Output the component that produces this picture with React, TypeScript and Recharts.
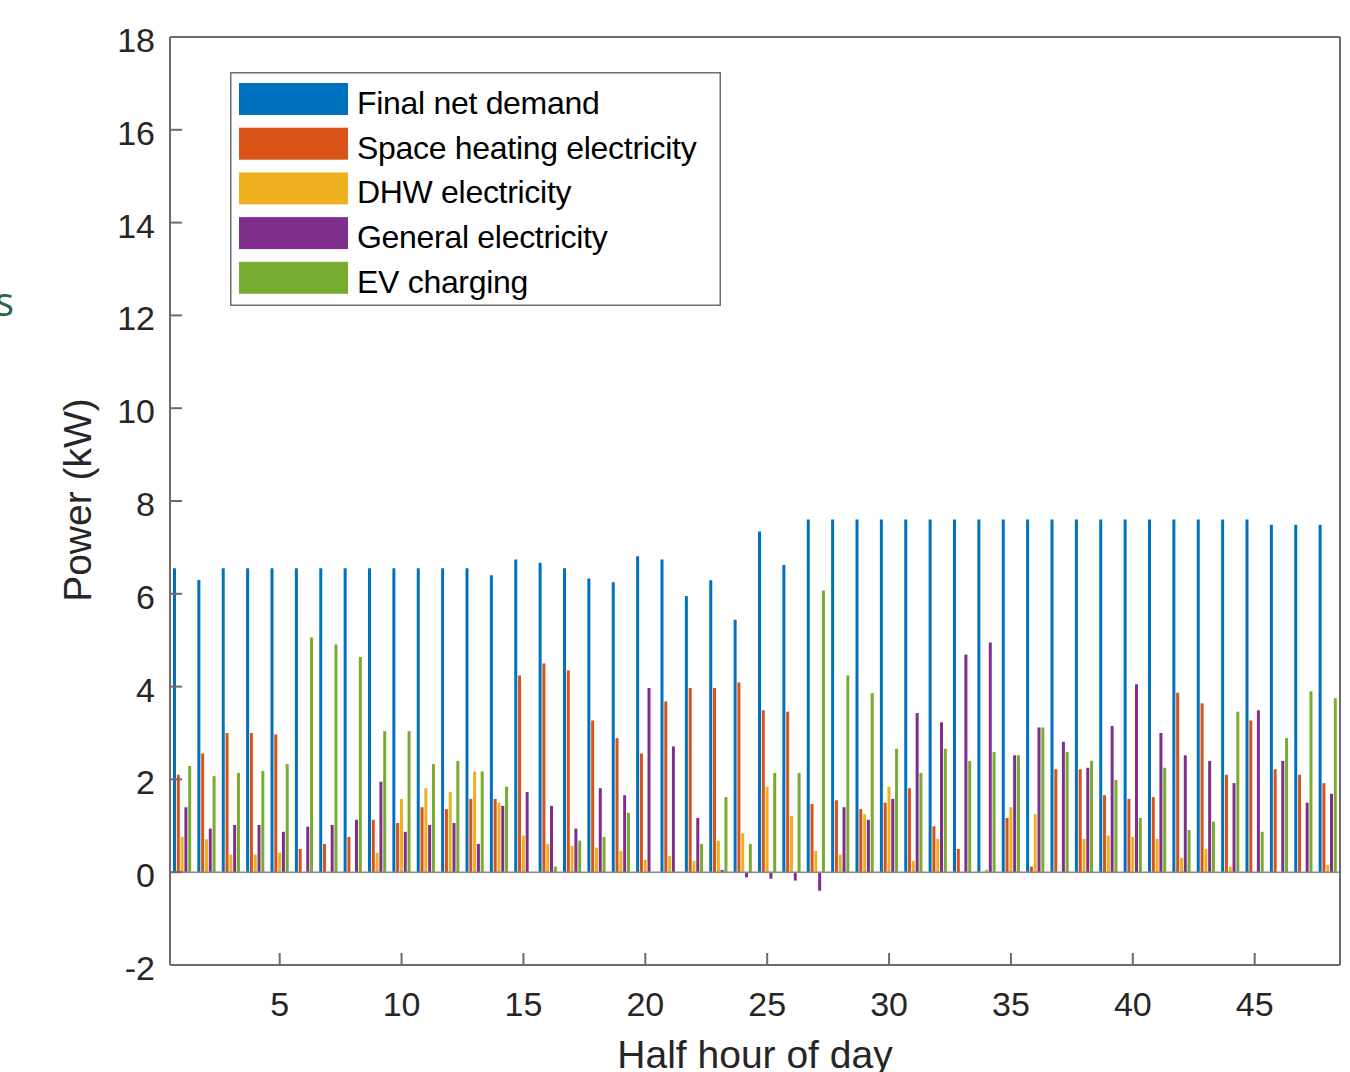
import React from 'react';
import { BarChart, Bar, XAxis, YAxis, ReferenceLine, Legend } from 'recharts';

const halfHours = [1, 2, 3, 4, 5, 6, 7, 8, 9, 10, 11, 12, 13, 14, 15, 16, 17, 18, 19, 20, 21, 22, 23, 24,
  25, 26, 27, 28, 29, 30, 31, 32, 33, 34, 35, 36, 37, 38, 39, 40, 41, 42, 43, 44, 45, 46, 47, 48];

const finalNetDemand = [6.55, 6.30, 6.55, 6.55, 6.55, 6.55, 6.55, 6.55, 6.55, 6.55, 6.55, 6.55, 6.55, 6.40, 6.74, 6.67,
  6.55, 6.33, 6.25, 6.81, 6.74, 5.95, 6.29, 5.44, 7.34, 6.62, 7.60, 7.60, 7.60, 7.60, 7.60, 7.60,
  7.60, 7.60, 7.60, 7.60, 7.60, 7.60, 7.60, 7.60, 7.60, 7.60, 7.60, 7.60, 7.60, 7.49, 7.49, 7.49];

const spaceHeating = [2.10, 2.56, 3.00, 3.00, 2.97, 0.50, 0.61, 0.76, 1.13, 1.06, 1.40, 1.36, 1.58, 1.58, 4.24, 4.50,
  4.35, 3.27, 2.89, 2.56, 3.68, 3.97, 3.97, 4.09, 3.49, 3.46, 1.47, 1.55, 1.36, 1.50, 1.81, 0.99,
  0.50, 0, 1.17, 0.12, 2.22, 2.22, 1.66, 1.58, 1.62, 3.87, 3.64, 2.10, 3.27, 2.22, 2.10, 1.92];

const dhw = [0.76, 0.71, 0.38, 0.38, 0.42, 0, 0, 0, 0.42, 1.58, 1.81, 1.73, 2.17, 1.50, 0.79, 0.61,
  0.57, 0.53, 0.46, 0.27, 0.35, 0.24, 0.68, 0.84, 1.84, 1.21, 0.46, 0.38, 1.25, 1.84, 0.24, 0.72,
  0, 0.05, 1.40, 1.25, 0, 0.72, 0.79, 0.76, 0.72, 0.31, 0.50, 0.12, 0, 0, 0, 0.16];

const general = [1.40, 0.94, 1.02, 1.02, 0.87, 0.98, 1.02, 1.13, 1.95, 0.87, 1.02, 1.06, 0.61, 1.43, 1.73, 1.43,
  0.94, 1.81, 1.66, 3.97, 2.71, 1.17, 0.05, -0.11, -0.14, -0.18, -0.40, 1.40, 1.13, 1.58, 3.43, 3.23,
  4.69, 4.95, 2.52, 3.12, 2.81, 2.25, 3.15, 4.05, 3.00, 2.52, 2.40, 1.92, 3.49, 2.40, 1.50, 1.69];

const evCharging = [2.29, 2.07, 2.14, 2.18, 2.33, 5.06, 4.91, 4.64, 3.04, 3.04, 2.33, 2.40, 2.17, 1.84, 0, 0.12,
  0.68, 0.76, 1.28, 0, 0, 0.61, 1.62, 0.61, 2.14, 2.14, 6.07, 4.24, 3.86, 2.66, 2.14, 2.66,
  2.40, 2.59, 2.52, 3.12, 2.59, 2.40, 1.99, 1.17, 2.25, 0.91, 1.09, 3.46, 0.87, 2.89, 3.90, 3.75];

const xTicks = [5, 10, 15, 20, 25, 30, 35, 40, 45];
const yTicks = [-2, 0, 2, 4, 6, 8, 10, 12, 14, 16, 18];

const seriesNames = ['Final net demand', 'Space heating electricity', 'DHW electricity', 'General electricity', 'EV charging'];
const seriesColors = ['#0072BD', '#D95319', '#EDB120', '#7E2F8E', '#77AC30'];
const seriesKeys = ['net', 'heat', 'dhw', 'gen', 'ev'];

const data = halfHours.map((h, i) => ({
  h,
  net: finalNetDemand[i],
  heat: spaceHeating[i],
  dhw: dhw[i],
  gen: general[i],
  ev: evCharging[i],
}));

const FONT = '"Liberation Sans", Arial, sans-serif';
const AXIS = '#6b6b6b';
const TEXT = '#262626';

const renderLegend = () => (
  <svg width={491} height={234} style={{ display: 'block' }}>
    <rect x={0.75} y={0.75} width={489.5} height={232.5} fill="#ffffff" stroke="#6e6e6e" strokeWidth={1.5} />
    {seriesNames.map((name, i) => (
      <g key={name}>
        <rect x={9} y={11 + i * 44.7} width={109} height={32} fill={seriesColors[i]} />
        <text x={127} y={42 + i * 44.7} fontFamily={FONT} fontSize={32} fill="#000" letterSpacing={-0.3}>
          {name}
        </text>
      </g>
    ))}
  </svg>
);

export default function App() {
  return (
    <div style={{ position: 'absolute', left: 0, top: 0, width: 1350, height: 1072, background: '#fff' }}>
      <BarChart
        width={1350}
        height={1072}
        data={data}
        margin={{ top: 36, right: 9, bottom: 47, left: 100 }}
        barSize={3}
        barGap={0.8}
      >
        <XAxis
          dataKey="h"
          type="number"
          domain={[0.5, 48.5]}
          ticks={xTicks}
          allowDataOverflow
          height={60}
          tickSize={-12}
          tickMargin={39}
          stroke={AXIS}
          axisLine={{ stroke: AXIS, strokeWidth: 2 }}
          tickLine={{ stroke: AXIS, strokeWidth: 2 }}
          tick={{ fill: TEXT, fontSize: 34, fontFamily: FONT }}
        />
        <XAxis
          xAxisId="top"
          orientation="top"
          type="number"
          domain={[0.5, 48.5]}
          ticks={xTicks}
          allowDataOverflow
          height={1}
          tickSize={-12}
          tick={false}
          axisLine={{ stroke: AXIS, strokeWidth: 2 }}
          tickLine={{ stroke: AXIS, strokeWidth: 2 }}
        />
        <YAxis
          type="number"
          domain={[-2, 18]}
          ticks={yTicks}
          allowDataOverflow
          width={70}
          tickSize={-12}
          tickMargin={27}
          axisLine={{ stroke: AXIS, strokeWidth: 2 }}
          tickLine={{ stroke: AXIS, strokeWidth: 2 }}
          tick={{ fill: TEXT, fontSize: 34, fontFamily: FONT, dy: 3 }}
        />
        <YAxis
          yAxisId="right"
          orientation="right"
          type="number"
          domain={[-2, 18]}
          ticks={yTicks}
          allowDataOverflow
          width={1}
          tickSize={-12}
          tick={false}
          axisLine={{ stroke: AXIS, strokeWidth: 2 }}
          tickLine={{ stroke: AXIS, strokeWidth: 2 }}
        />
        {seriesKeys.map((k, i) => (
          <Bar key={k} dataKey={k} name={seriesNames[i]} fill={seriesColors[i]} isAnimationActive={false} />
        ))}
        <ReferenceLine y={0} stroke="#8a8a8a" strokeWidth={1.5} />
        <Legend
          layout="vertical"
          verticalAlign="middle"
          align="center"
          content={renderLegend}
          wrapperStyle={{ left: 230, top: 72, width: 491, height: 234 }}
        />
      </BarChart>
      <svg
        width={1350}
        height={1072}
        style={{ position: 'absolute', left: 0, top: 0, pointerEvents: 'none' }}
      >
        <text x={755} y={1068} textAnchor="middle" fontFamily={FONT} fontSize={39} fill={TEXT}>
          Half hour of day
        </text>
        <text
          x={0}
          y={0}
          transform="translate(91,500) rotate(-90)"
          textAnchor="middle"
          fontFamily={FONT}
          fontSize={39}
          fill={TEXT}
        >
          Power (kW)
        </text>
        <text x={-5} y={316} fontFamily='"Open Sans", sans-serif' fontSize={40} fill="#2f5e4c">
          s
        </text>
      </svg>
    </div>
  );
}
